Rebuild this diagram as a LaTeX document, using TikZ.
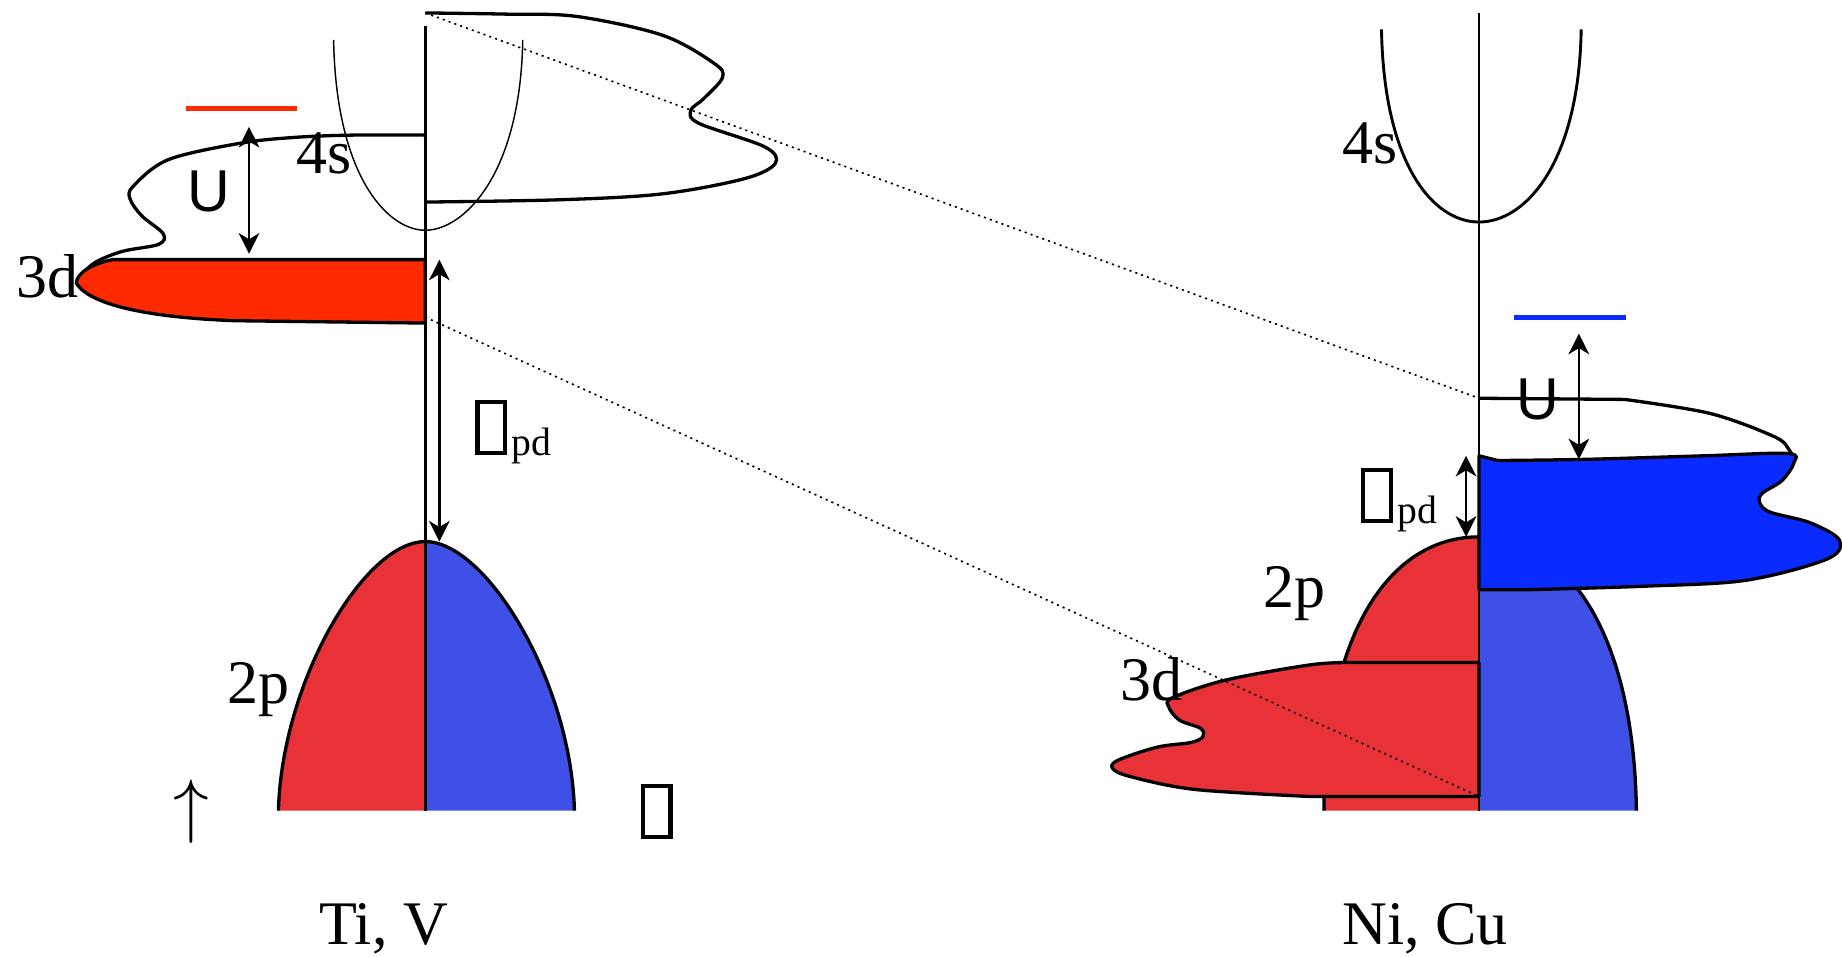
\documentclass[tikz,border=0pt]{standalone}
\usepackage{fontspec}
\setmainfont{Liberation Serif}
\newfontfamily\sanslabel{Liberation Sans}
\usepackage{tikz}
\usetikzlibrary{arrows.meta}

\definecolor{dred}{RGB}{255,42,0}
\definecolor{pred}{RGB}{232,50,56}
\definecolor{pblue}{RGB}{63,80,230}
\definecolor{dblue}{RGB}{10,43,255}

% empty glyph box, as the figure prints it
\newcommand{\tofu}{{\setlength{\fboxsep}{0pt}\setlength{\fboxrule}{1pt}\fbox{\rule{0pt}{0.40cm}\hspace{0.20cm}}}}
\newcommand{\subpd}{\hspace{0.04cm}\raisebox{-0.04cm}{\fontsize{9.6}{11}\selectfont pd}}

\begin{document}
\begin{tikzpicture}[x=0.01cm, y=-0.01cm, >={Stealth[length=5pt,width=5pt,inset=1.5pt]},
  font=\fontsize{15}{18}\selectfont,
  outline/.style={line width=0.8pt, line join=round},
  axis/.style={line width=0.7pt},
  gap/.style={<->, line width=0.6pt},
  level/.style={line width=1.2pt},
  guide/.style={line width=0.4pt, dash pattern=on 0.5pt off 1pt},
  lbl/.style={anchor=base west, inner sep=0pt}]
  \useasboundingbox (0,0) rectangle (1568,814);

  % ---------- Ti, V ----------
  \coordinate (topL) at (362,11);
  \coordinate (dbotL) at (362,270);
  % 4s band
  \draw[line width=0.35pt] (284,34) .. controls (286,150) and (330,196) .. (362,196)
    .. controls (394,196) and (443,150) .. (445,34);
  % empty upper d band
  \draw[outline] plot[smooth, tension=0.55] coordinates {(362,11) (430,12) (491,14) (564,30) (608,54)
    (615,66) (599,84) (588,94) (595,105) (651,125) (660,139) (634,152) (564,165) (478,170) (362,172)};
  \draw[outline] plot[smooth, tension=0.55] coordinates {(362,115) (300,115) (250,117) (204,122) (143,136)
    (113,159) (111,170) (121,184) (139,199) (135,208) (104,214) (80,224) (66,238)};
  % filled 3d band
  \filldraw[outline, fill=dred] (362,221) -- (96,221) .. controls (80,224) and (65,232) .. (65,241)
    .. controls (75,258) and (120,270) .. (200,273) -- (362,275) -- cycle;
  % 2p band
  \fill[pred] (362,690) -- (237,690) .. controls (240,580) and (310,461) .. (362,461) -- cycle;
  \fill[pblue] (362,690) -- (489,690) .. controls (486,580) and (414,461) .. (362,461) -- cycle;
  \draw[outline] (237,690) .. controls (240,580) and (310,461) .. (362,461)
    .. controls (414,461) and (486,580) .. (489,690);
  \draw[axis] (362,22) -- (362,690);
  % U level
  \draw[level, dred] (158,92) -- (253,92);
  \coordinate (UtopL) at (212,108);
  \coordinate (UbotL) at (212,216);
  \draw[gap] (UtopL) -- (UbotL);
  \coordinate (DtopL) at (374,221);
  \coordinate (DbotL) at (374,461);
  \draw[gap] (DtopL) -- (DbotL);
  % labels
  \node[lbl] (t3dL) at (13,253) {3d};
  \node[lbl] (t4sL) at (252,148) {4s};
  \node[lbl] (t2pL) at (193,599) {2p};
  \node[lbl, font=\fontsize{14.3}{17}\sanslabel] (tUL) at (159,180) {U};
  \node[lbl] (tdpdL) at (404,384) {\tofu\subpd};
  \node[inner sep=0pt, font=\fontsize{16}{19}\selectfont] (tarrow) at (163,691) {$\uparrow$};
  \node[inner sep=0pt] (ttofu) at (559,691) {\tofu};
  \node[lbl] (tTiV) at (271,804) {Ti, V};

  % ---------- Ni, Cu ----------
  \coordinate (topR) at (1259,339);
  \coordinate (dbotR) at (1259,678);
  % 4s band
  \draw[line width=0.7pt] (1176,25) .. controls (1178,140) and (1220,189) .. (1259,189)
    .. controls (1298,189) and (1344,140) .. (1346,25);
  % 2p band
  \fill[pred] (1259,690) -- (1127,690) .. controls (1127,545) and (1180,457) .. (1259,457) -- cycle;
  \fill[pblue] (1259,690) -- (1393,690) .. controls (1391,545) and (1338,457) .. (1259,457) -- cycle;
  \draw[outline] (1127,690) .. controls (1127,545) and (1180,457) .. (1259,457)
    .. controls (1338,457) and (1391,545) .. (1393,690);
  % filled 3d band
  \filldraw[outline, fill=pred] (1259,564) -- plot[smooth, tension=0.55] coordinates {(1148,564)
    (1115,566) (1043,579) (998,594) (995,602) (1004,613) (1022,620) (1024,627) (1014,632)
    (985,636) (952,647) (947,654) (962,661) (1017,672) (1115,678)} -- (dbotR) -- cycle;
  % empty upper d band
  \draw[outline] (topR) -- plot[smooth, tension=0.55] coordinates {(1383,340) (1456,352)
    (1511,372) (1523,383) (1525,387)};
  \filldraw[outline, fill=dblue] (1259,388) -- plot[smooth, tension=0.55] coordinates {(1275,392)
    (1350,391) (1450,388) (1522,386) (1527,394) (1517,409) (1500,420) (1498,428) (1507,436)
    (1541,445) (1566,460) (1555,476) (1486,494) (1400,499) (1300,502)} -- (1259,502) -- cycle;
  \draw[axis] (1259,11) -- (1259,690);
  % U level
  \draw[level, dblue] (1289,270) -- (1384,270);
  \coordinate (UtopR) at (1344,284);
  \coordinate (UbotR) at (1344,391);
  \draw[gap] (UtopR) -- (UbotR);
  \coordinate (DtopR) at (1248,388);
  \coordinate (DbotR) at (1248,457);
  \draw[gap] (DtopR) -- (DbotR);
  % labels
  \node[lbl] (t4sR) at (1142,139) {4s};
  \node[lbl, font=\fontsize{14.3}{17}\sanslabel] (tUR) at (1290,357) {U};
  \node[lbl] (tdpdR) at (1158,442) {\tofu\subpd};
  \node[lbl] (t2pR) at (1075,517) {2p};
  \node[lbl] (t3dR) at (953,596) {3d};
  \node[lbl] (tNiCu) at (1142,804) {Ni, Cu};

  % guides between the two pictures
  \draw[guide] (topL) -- (topR);
  \draw[guide] (dbotL) -- (dbotR);
\end{tikzpicture}
\end{document}
